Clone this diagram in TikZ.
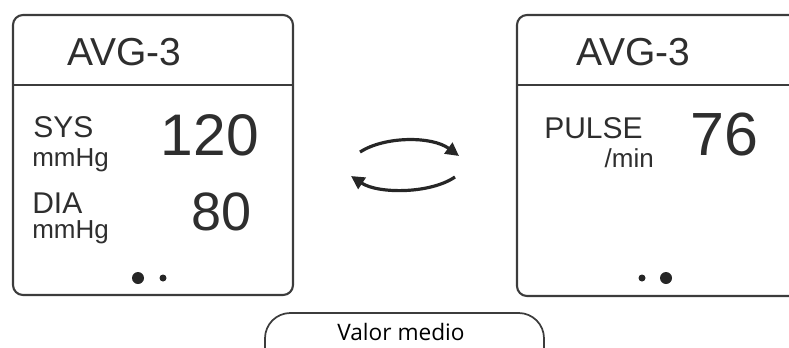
\documentclass[tikz,border=0pt]{standalone}
\usepackage{fontspec}
\setmainfont{Liberation Sans}
\newfontfamily\labelfont{Open Sans}
\usetikzlibrary{arrows.meta}
\definecolor{frame}{HTML}{3C3C3C}
\definecolor{txt}{HTML}{2E2E2E}
\tikzset{
  panel/.style={draw=frame, line width=1.6pt, rounded corners=7.5pt},
  sep/.style={draw=frame, line width=1.4pt},
  lbl/.style={inner sep=0pt, text=txt},
  swap/.style={draw=black!85, line width=2.4pt, -{Triangle[length=10pt,width=10pt]}},
  dot/.style={fill=black!85, draw=none},
}
\begin{document}
\begin{tikzpicture}[x=0.75pt,y=-0.75pt]
\useasboundingbox (0,0) rectangle (789,347);
\begin{scope}
\clip (0,0) rectangle (789,347);
% left panel
\draw[panel] (13,15) rectangle (293,295);
\draw[sep] (13,85) -- (293,85);
% right panel
\draw[panel] (517,15) rectangle (830,296);
\draw[sep] (517,85) -- (830,85);
% bottom pill
\draw[draw=frame, line width=1.3pt, rounded corners=19pt] (265,313) rectangle (544,380);
\end{scope}
% left texts
\node[lbl, anchor=base west, font=\fontsize{29.25pt}{30pt}\selectfont] (avgL) at (67,65) {AVG-3};
\node[lbl, anchor=base west, font=\fontsize{22.5pt}{23pt}\selectfont] (sys) at (33,137) {SYS};
\node[lbl, anchor=base west, font=\fontsize{19.5pt}{20pt}\selectfont] (u1) at (32,166) {mmHg};
\node[lbl, anchor=base east, font=\fontsize{44pt}{45pt}\selectfont] (v120) at (259,155) {120};
\node[lbl, anchor=base west, font=\fontsize{22.5pt}{23pt}\selectfont] (dia) at (32,213) {DIA};
\node[lbl, anchor=base west, font=\fontsize{19.5pt}{20pt}\selectfont] (u2) at (32,238) {mmHg};
\node[lbl, anchor=base east, font=\fontsize{40.5pt}{41pt}\selectfont] (v80) at (252,230) {80};
\fill[dot] (138,278) circle[radius=6];
\fill[dot] (163,278) circle[radius=3.5];
% right texts
\node[lbl, anchor=base west, font=\fontsize{29.25pt}{30pt}\selectfont] (avgR) at (576,65) {AVG-3};
\node[lbl, anchor=base west, font=\fontsize{22.5pt}{23pt}\selectfont] (pulse) at (544,138) {PULSE};
\node[lbl, anchor=base east, font=\fontsize{19.5pt}{20pt}\selectfont] (umin) at (654,167) {/min};
\node[lbl, anchor=base west, font=\fontsize{45.75pt}{46pt}\selectfont] (v76) at (690,155) {76};
\fill[dot] (642,278) circle[radius=3.5];
\fill[dot] (666,278) circle[radius=6];
% swap arrows
\coordinate (a1) at (360,152);
\coordinate (a2) at (459,156);
\coordinate (b1) at (455,177);
\coordinate (b2) at (351,176);
\draw[swap] (a1) .. controls (385,136) and (432,136) .. (a2);
\draw[swap] (b1) .. controls (430,194) and (378,194) .. (b2);
% label
\node[inner sep=0pt, anchor=base, font=\labelfont\fontsize{17pt}{18pt}\selectfont] (valor) at (401,340) {Valor medio};
\end{tikzpicture}
\end{document}
